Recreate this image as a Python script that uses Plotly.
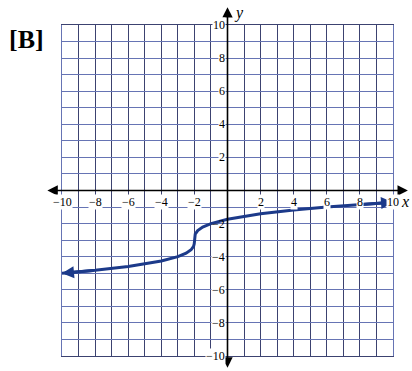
import plotly.graph_objects as go

# Curve points
curve_x = [-10, -8, -6, -4, -3, -2.5, -2.2, -2.05, -2.01, -2.0, -1.99, -1.95, -1.8, -1.5, -1, 0, 2, 4, 6, 8, 10]
curve_y = [-5.0, -4.82, -4.59, -4.26, -4.0, -3.79, -3.58, -3.37, -3.22, -3.0, -2.78, -2.63, -2.42, -2.21, -2.0, -1.74, -1.41, -1.18, -1.0, -0.85, -0.71]

x_tick_vals = [-10, -8, -6, -4, -2, 2, 4, 6, 8, 10]
x_tick_text = ["\u221210", "\u22128", "\u22126", "\u22124", "\u22122", "2", "4", "6", "8", "10"]
y_tick_vals = [10, 8, 6, 4, 2, -2, -4, -6, -8, -10]
y_tick_text = ["10", "8", "6", "4", "2", "\u22122", "\u22124", "\u22126", "\u22128", "\u221210"]

W, H = 412, 371
ML, MR, MT, MB = 62, 19, 25, 15
vgrid_color = "#3c4270"
hgrid_color = "#6674b4"
curve_color = "#1c3a8a"
serif = "Liberation Serif, Times New Roman, serif"

fig = go.Figure()
fig.add_trace(go.Scatter(x=curve_x, y=curve_y, mode="lines",
                         line=dict(color=curve_color, width=3), hoverinfo="skip"))

annotations = []
# Axis arrows
annotations.append(dict(xref="x domain", yref="y domain", axref="pixel", ayref="pixel",
                        x=1.045, y=0.5, ax=-362, ay=0, text="", showarrow=True,
                        arrowhead=2, arrowside="end+start", arrowsize=1.3, arrowwidth=1.6,
                        arrowcolor="black", standoff=0, startstandoff=0))
annotations.append(dict(xref="x domain", yref="y domain", axref="pixel", ayref="pixel",
                        x=0.5, y=1.054, ax=0, ay=362, text="", showarrow=True,
                        arrowhead=2, arrowside="end+start", arrowsize=1.3, arrowwidth=1.6,
                        arrowcolor="black", standoff=0, startstandoff=0))
# Curve end arrows
annotations.append(dict(xref="x", yref="y", axref="x", ayref="y",
                        x=curve_x[0], y=curve_y[0], ax=curve_x[1], ay=curve_y[1], text="",
                        showarrow=True, arrowhead=2, arrowsize=0.8, arrowwidth=3,
                        arrowcolor=curve_color, standoff=0))
annotations.append(dict(xref="x", yref="y", axref="x", ayref="y",
                        x=curve_x[-1], y=curve_y[-1], ax=curve_x[-2], ay=curve_y[-2], text="",
                        showarrow=True, arrowhead=2, arrowsize=0.8, arrowwidth=3,
                        arrowcolor=curve_color, standoff=0))

for v, t in zip(x_tick_vals, x_tick_text):
    annotations.append(dict(xref="x", yref="y", x=v, y=0, text=t, showarrow=False,
                            xanchor="center", yanchor="top", yshift=-3,
                            font=dict(family=serif, size=12, color="black"),
                            bgcolor="white", borderpad=0))
for v, t in zip(y_tick_vals, y_tick_text):
    # the curve passes over the -2 label, so it gets no background box
    bg = "rgba(0,0,0,0)" if v == -2 else "white"
    annotations.append(dict(xref="x", yref="y", x=0, y=v, text=t, showarrow=False,
                            xanchor="right", yanchor="middle", xshift=-2,
                            font=dict(family=serif, size=12, color="black"),
                            bgcolor=bg, borderpad=0))

annotations.append(dict(xref="paper", yref="paper", x=1.037, y=0.468, text="<i>x</i>",
                        showarrow=False, xanchor="center", yanchor="middle",
                        font=dict(family=serif, size=16, color="black")))
annotations.append(dict(xref="paper", yref="paper", x=0.535, y=1.036, text="<i>y</i>",
                        showarrow=False, xanchor="center", yanchor="middle",
                        font=dict(family=serif, size=16, color="black")))
annotations.append(dict(xref="paper", yref="paper", x=-0.106, y=0.955, text="<b>[B]</b>",
                        showarrow=False, xanchor="center", yanchor="middle",
                        font=dict(family=serif, size=26, color="black")))

fig.update_layout(
    width=W, height=H,
    margin=dict(l=ML, r=MR, t=MT, b=MB),
    paper_bgcolor="white", plot_bgcolor="white",
    showlegend=False,
    annotations=annotations,
    xaxis=dict(range=[-10, 10], dtick=1, tick0=0, showgrid=True, gridcolor=vgrid_color,
               gridwidth=1, zeroline=False, showticklabels=False, ticks="",
               showline=True, linecolor=vgrid_color, linewidth=1, mirror=True, fixedrange=True),
    yaxis=dict(range=[-10, 10], dtick=1, tick0=0, showgrid=True, gridcolor=hgrid_color,
               gridwidth=1, zeroline=False, showticklabels=False, ticks="",
               showline=True, linecolor=hgrid_color, linewidth=1, mirror=True, fixedrange=True),
)

fig.write_html("out.html", config={"displayModeBar": False},
               post_script="document.body.style.margin='0';document.body.style.padding='0';")
